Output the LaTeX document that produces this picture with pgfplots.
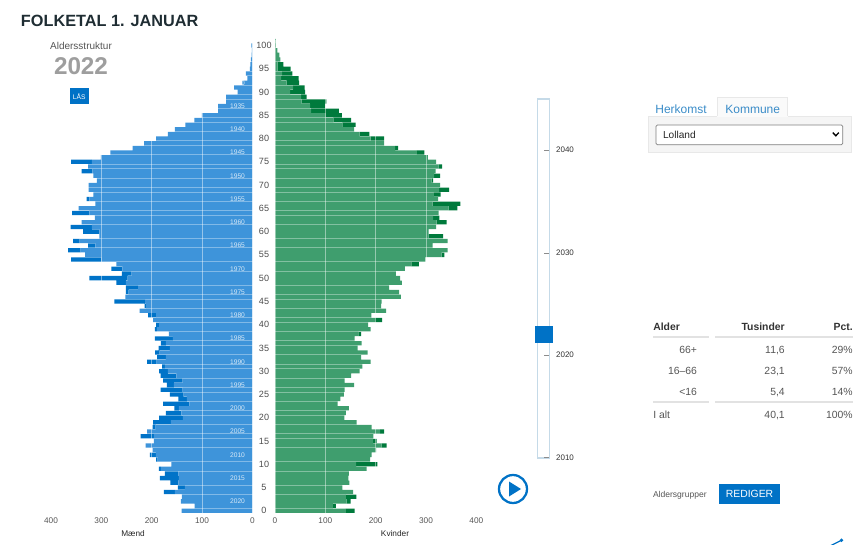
\documentclass[border=0pt]{standalone}
\usepackage{fontspec}
\setmainfont{Liberation Sans}
\usepackage{pgfplots}
\usepackage{pgfplotstable}
\pgfplotsset{compat=1.18}
\definecolor{mlight}{HTML}{3E94DA}
\definecolor{mdark}{HTML}{0073C8}
\definecolor{flight}{HTML}{3F9E6E}
\definecolor{fdark}{HTML}{007A3C}
\definecolor{uiblue}{HTML}{0072C6}
\definecolor{tabblue}{HTML}{3A8CC8}
\definecolor{txt}{HTML}{555555}
\definecolor{rule}{HTML}{E2E2E2}
\definecolor{slide}{HTML}{C5DAE8}
\definecolor{head}{HTML}{1F2D33}
\newcommand{\fs}[1]{\fontsize{#1}{#1}\selectfont}

% age, base (light bar), extra (dark end of the bar)
\pgfplotstableread{
age base extra
100 2 0
99 1 0
98 1.5 0
97 3 0
96 4 0
95 5 0
94 12.6 0
93 10 0
92 20 0
91 36 0
90 29 0
89 52 0
88 52 0
87 68 0
86 68 0
85 100 0
84 115 0
83 133 0
82 154 0
81 168 0
80 191 0
79 215 0
78 238 0
77 282 0
76 301 0
75 319 41
74 326 0
73 318 21
72 316 0
71 309 0
70 325 0
69 325 0
68 316 0
67 324 5
66 312 0
65 345 0
64 324 34
63 313 0
62 339 0
61 319 42
60 304 32
59 304 0
58 343 13
57 312 14
56 341 25
55 332 0
54 300 60
53 270 0
52 258 22
51 240 19
50 248 76
49 251 19
48 227 24
47 246 5
46 252 0
45 213 61
44 211 3
43 224 0
42 191 16
41 197 0
40 185 6
39 189.5 4
38 166 0
37 158 35.5
36 171.6 10
35 164 22
34 184 9
33 172 17
32 190 19
31 174 5
30 168 17
29 151 31
28 138.5 38.5
27 156 14
26 138.5 43.5
25 136.5 27.5
24 130 17
23 125 52
22 146 9
21 141 31
20 138 47
19 162 35
18 192 6
17 209 0
16 195.5 26.5
15 195.5 0
14 212 0
13 198 0
12 191.5 12
11 188 3
10 161 0
9 181.5 4
8 147 27
7 146 37.5
6 147 16
5 134 14
4 154 21.5
3 140 0
2 142 0
1 114.6 0
0 140.5 0
}\maend

\pgfplotstableread{
age base extra
101 1 0
100 1.5 0
99 4.6 0
98 8.6 0
97 10.6 0
96 5 11.6
95 5 26
94 14 20.5
93 12 35
92 23 25
91 36 23
90 30 30
89 52 11
88 53 49
87 70 29.4
86 71.6 55.4
85 101 32
84 116 35
83 134 26
82 157 0
81 168 19.5
80 190 27
79 217 0
78 238.6 6
77 282 15
76 303.5 0
75 320 0
74 325 7
73 319 0
72 316 12
71 311 3
70 328 0
69 326 20
68 315.5 13.5
67 324 0
66 313 55.5
65 345 17.5
64 325 0
63 314 12.7
62 321 20
61 320 0
60 305 0
59 305 29
58 343 0
57 313 0
56 343 0
55 331 5.6
54 299 0
53 271 15
52 258 0
51 240 0
50 248.5 0
49 252 0
48 226.6 0
47 246.5 0
46 250 0
45 212 0
44 211 0
43 221 0
42 191.5 0
41 199 13.7
40 185 0
39 190 0
38 165.7 5.3
37 158 0
36 172 0
35 164 0
34 184 0
33 171 0
32 190 0
31 173.6 0
30 168 0
29 151 0
28 138.5 0
27 157 0
26 138.5 0
25 137 0
24 130 0
23 124.6 0
22 147 0
21 141 0
20 138 0
19 162 0
18 192 0
17 209 8
16 195.5 0
15 195 7
14 212 10
13 201 0
12 192 0
11 189 0
10 161 42.4
9 182 0
8 147 0
7 146 0
6 148 0
5 134 0
4 155 0
3 141 20.7
2 142.5 7.5
1 115 6
0 141 17
}\kvinder

\pgfplotsset{pyramid/.style={
  scale only axis,
  xbar stacked,
  bar width=3.2pt,
  width=151pt,
  height=354.75pt,
  xmin=0, xmax=400,
  ymin=-0.5, ymax=101.2,
  xtick={0,100,200,300,400},
  axis line style={draw=none},
  major tick length=0pt,
  xmajorgrids,
  grid style={white,opacity=0.45},
  axis on top,
  /pgf/number format/assume math mode=true,
  tick label style={font=\fs{6.2},text=txt},
  xticklabel style={yshift=-3.6pt},
  clip=false,
}}

\begin{document}
\begin{tikzpicture}[x=0.75pt,y=-0.75pt,every node/.style={inner sep=0pt,outer sep=0pt,text depth=0pt}]
\path[use as bounding box] (0,0) rectangle (856,545);

% left pyramid
\begin{axis}[pyramid,at={(38.25pt,-384.75pt)},anchor=south west,x dir=reverse,ytick=\empty]
  \addplot[fill=mlight,draw=none] table[x=base,y=age] {\maend};
  \addplot[fill=mdark,draw=none] table[x=extra,y=age] {\maend};
\end{axis}

% right pyramid, carries the age labels
\begin{axis}[pyramid,at={(206.25pt,-384.75pt)},anchor=south west,
  ytick={0,5,...,100},
  yticklabel style={anchor=center,xshift=-8.25pt,font=\fs{6.8},text=black!70},
  ]
  \addplot[fill=flight,draw=none] table[x=base,y=age] {\kvinder};
  \addplot[fill=fdark,draw=none] table[x=extra,y=age] {\kvinder};
\end{axis}

% birth years inside the male bars
\foreach \yr/\ag in {1930/92,1935/87,1940/82,1945/77,1950/72,1955/67,1960/62,1965/57,1970/52,1975/47,1980/42,1985/37,1990/32,1995/27,2000/22,2005/17,2010/12,2015/7,2020/2}{
  \node[text=white,opacity=0.8,font=\fs{5}] at (237.5,{510.7-4.65*\ag}) {\yr};
}

\node[text=black!85,font=\fs{6.2}] at (133,534) {Mænd};
\node[text=black!85,font=\fs{6.2}] at (395,534) {Kvinder};

% heading and year box
\node[anchor=west,text=head,font=\bfseries\fs{12.2}] at (21,21) {FOLKETAL 1. JANUAR};
\node[text=txt,font=\fs{7.5}] at (81,46) {Aldersstruktur};
\node[text=black!38,font=\bfseries\fs{18.2}] at (81,66) {2022};
\fill[uiblue] (70,88) rectangle (88.5,104.5);
\node[text=white,font=\fs{5}] at (79.2,96.2) {LÅS};

% year slider
\draw[slide,line width=0.9pt] (537.7,99) rectangle (549.3,458);
\foreach \yy/\lab in {150/2040,253/2030,355/2020,457.5/2010}{
  \draw[black!45,line width=0.4pt] (544.3,\yy) -- (549,\yy);
  \node[text=black!80,font=\fs{6}] at (565,\yy) {\lab};
}
\fill[uiblue] (535,326) rectangle (552.5,343);
\draw[uiblue,line width=1.7pt] (513,489) circle (14);
\fill[uiblue] (509,481.5) -- (509,496.5) -- (521,489) -- cycle;

% tabs and drop-down
\fill[black!4] (648,116) rectangle (851,152.3);
\draw[black!9,line width=0.5pt] (648,116) rectangle (851,152.3);
\fill[black!2] (717.3,97) rectangle (787.7,117);
\draw[black!9,line width=0.5pt] (717.3,116) -- (717.3,97) -- (787.7,97) -- (787.7,116);
\node[text=tabblue,font=\fs{9}] at (681,109.3) {Herkomst};
\node[text=tabblue,font=\fs{9}] at (752.7,109.3) {Kommune};
\draw[black!50,fill=white,line width=0.5pt,rounded corners=1pt] (656,125) rectangle (842.7,144.7);
\node[anchor=west,text=black!85,font=\fs{7.6}] at (663,134.7) {Lolland};
\draw[black,line width=1pt] (832.8,132.6) -- (835.8,135.8) -- (838.8,132.6);

% age group table
\node[anchor=west,text=black!80,font=\bfseries\fs{7.8}] at (653.3,326.7) {Alder};
\node[anchor=east,text=black!80,font=\bfseries\fs{7.8}] at (784.7,326.7) {Tusinder};
\node[anchor=east,text=black!80,font=\bfseries\fs{7.8}] at (852.7,326.7) {Pct.};
\foreach \yy in {337.3,402.3}{
  \draw[rule,line width=1.4pt] (653,\yy) -- (709,\yy);
  \draw[rule,line width=1.4pt] (715,\yy) -- (853,\yy);
}
\foreach \yy/\aa/\bb/\cc in {350/66+/{11,6}/29\%,371/16--66/{23,1}/57\%,392/<16/{5,4}/14\%}{
  \node[anchor=east,text=txt,font=\fs{7.8}] at (697,\yy) {\aa};
  \node[anchor=east,text=txt,font=\fs{7.8}] at (784.7,\yy) {\bb};
  \node[anchor=east,text=txt,font=\fs{7.8}] at (852.7,\yy) {\cc};
}
\node[anchor=west,text=txt,font=\fs{7.8}] at (653.3,415) {I alt};
\node[anchor=east,text=txt,font=\fs{7.8}] at (784.7,415) {40,1};
\node[anchor=east,text=txt,font=\fs{7.8}] at (852.7,415) {100\%};

\node[anchor=west,text=txt,font=\fs{6.4}] at (653,494.3) {Aldersgrupper};
\fill[uiblue] (719,484) rectangle (780,504);
\node[text=white,font=\fs{7.8}] at (749.5,494) {REDIGER};

% share icon, cut by the edge
\draw[uiblue,line width=0.9pt] (841,540.5) -- (830,546);
\fill[uiblue] (841.5,540.3) circle (1.9);
\end{tikzpicture}
\end{document}
